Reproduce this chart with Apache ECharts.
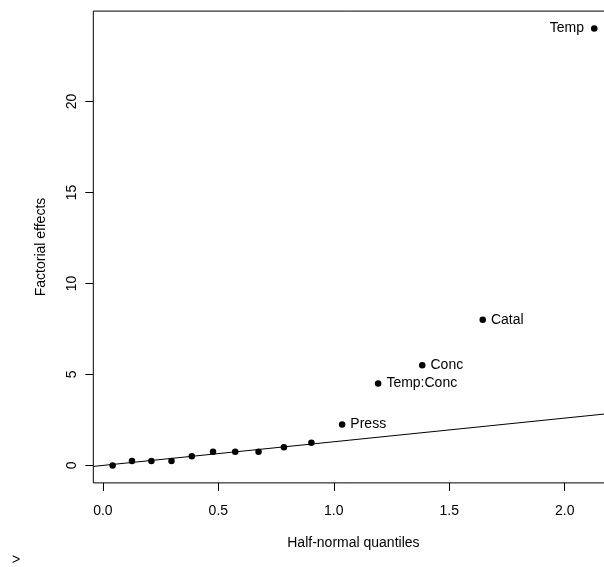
<!DOCTYPE html>
<html>
<head>
<meta charset="utf-8">
<script src="https://cdn.jsdelivr.net/npm/echarts@6/dist/echarts.min.js"></script>
<style>
  html, body { margin: 0; padding: 0; background: #fff; }
  #chart { width: 604px; height: 567px; }
</style>
</head>
<body>
<div id="chart"></div>
<script>
// Half-normal quantiles (x) and absolute factorial effects (y)
const quantiles = [0.042, 0.126, 0.210, 0.297, 0.385, 0.477, 0.573, 0.674, 0.784, 0.903, 1.036, 1.192, 1.383, 1.645, 2.128];
const effects   = [0, 0.25, 0.25, 0.25, 0.5, 0.75, 0.75, 0.75, 1.0, 1.25, 2.25, 4.5, 5.5, 8.0, 24.0];
const effectNames = ['', '', '', '', '', '', '', '', '', '', 'Press', 'Temp:Conc', 'Conc', 'Catal', 'Temp'];
const leftLabeled = ['Temp'];
// reference line through origin
const lineSlope = 1.3;
const lineIntercept = 0;
// axis ticks
const xTicks = [0, 0.5, 1.0, 1.5, 2.0];
const yTicks = [0, 5, 10, 15, 20];
const xTitle = 'Half-normal quantiles';
const yTitle = 'Factorial effects';

const xMin = -0.0416, xMax = 2.2114;
const yMin = -0.96, yMax = 24.96;
const FONT = '"Liberation Sans", Arial, Helvetica, sans-serif';

const chart = echarts.init(document.getElementById('chart'), null, { renderer: 'canvas' });

const scatterData = quantiles.map((q, i) => {
  const name = effectNames[i];
  const item = { value: [q, effects[i]], name: name };
  if (name) {
    const left = leftLabeled.indexOf(name) >= 0;
    item.label = {
      show: true,
      formatter: name,
      position: left ? 'left' : 'right',
      distance: left ? 7 : 5
    };
  }
  return item;
});

const option = {
  animation: false,
  backgroundColor: '#ffffff',
  grid: {
    left: 93.3, right: -9.5, top: 11.1, bottom: 84.1,
    show: true, borderColor: '#000', borderWidth: 1, backgroundColor: 'transparent',
    containLabel: false, outerBoundsMode: 'none'
  },
  xAxis: {
    type: 'value', min: xMin, max: xMax,
    name: xTitle, nameLocation: 'middle', nameGap: 53,
    nameTextStyle: { fontFamily: FONT, fontSize: 14, color: '#000' },
    axisLine: { show: false, onZero: false },
    splitLine: { show: false },
    axisTick: { show: true, inside: false, length: 8, lineStyle: { color: '#000', width: 1 }, customValues: xTicks },
    axisLabel: {
      show: true, customValues: xTicks, margin: 21,
      fontFamily: FONT, fontSize: 14, color: '#000',
      formatter: v => v.toFixed(1)
    }
  },
  yAxis: {
    type: 'value', min: yMin, max: yMax,
    name: yTitle, nameLocation: 'middle', nameGap: 45, nameRotate: 90,
    nameTextStyle: { fontFamily: FONT, fontSize: 14, color: '#000' },
    axisLine: { show: false, onZero: false },
    splitLine: { show: false },
    axisTick: { show: true, inside: false, length: 8, lineStyle: { color: '#000', width: 1 }, customValues: yTicks },
    axisLabel: {
      show: true, customValues: yTicks, margin: 14, rotate: 90,
      fontFamily: FONT, fontSize: 14, color: '#000',
      formatter: v => String(v)
    }
  },
  series: [
    {
      type: 'line',
      data: [[xMin, lineIntercept + lineSlope * xMin], [xMax, lineIntercept + lineSlope * xMax]],
      symbol: 'none',
      lineStyle: { color: '#000', width: 1 },
      clip: true,
      silent: true,
      z: 2
    },
    {
      type: 'scatter',
      data: scatterData,
      symbol: 'circle',
      symbolSize: 6.5,
      itemStyle: { color: '#000', opacity: 1 },
      label: { show: false, fontFamily: FONT, fontSize: 14, color: '#000' },
      labelLayout: { hideOverlap: false },
      z: 3
    }
  ],
  graphic: [
    {
      type: 'text', left: 12, top: 553,
      style: { text: '>', font: '14px ' + FONT, fill: '#000' }
    }
  ]
};

chart.setOption(option);
</script>
</body>
</html>
